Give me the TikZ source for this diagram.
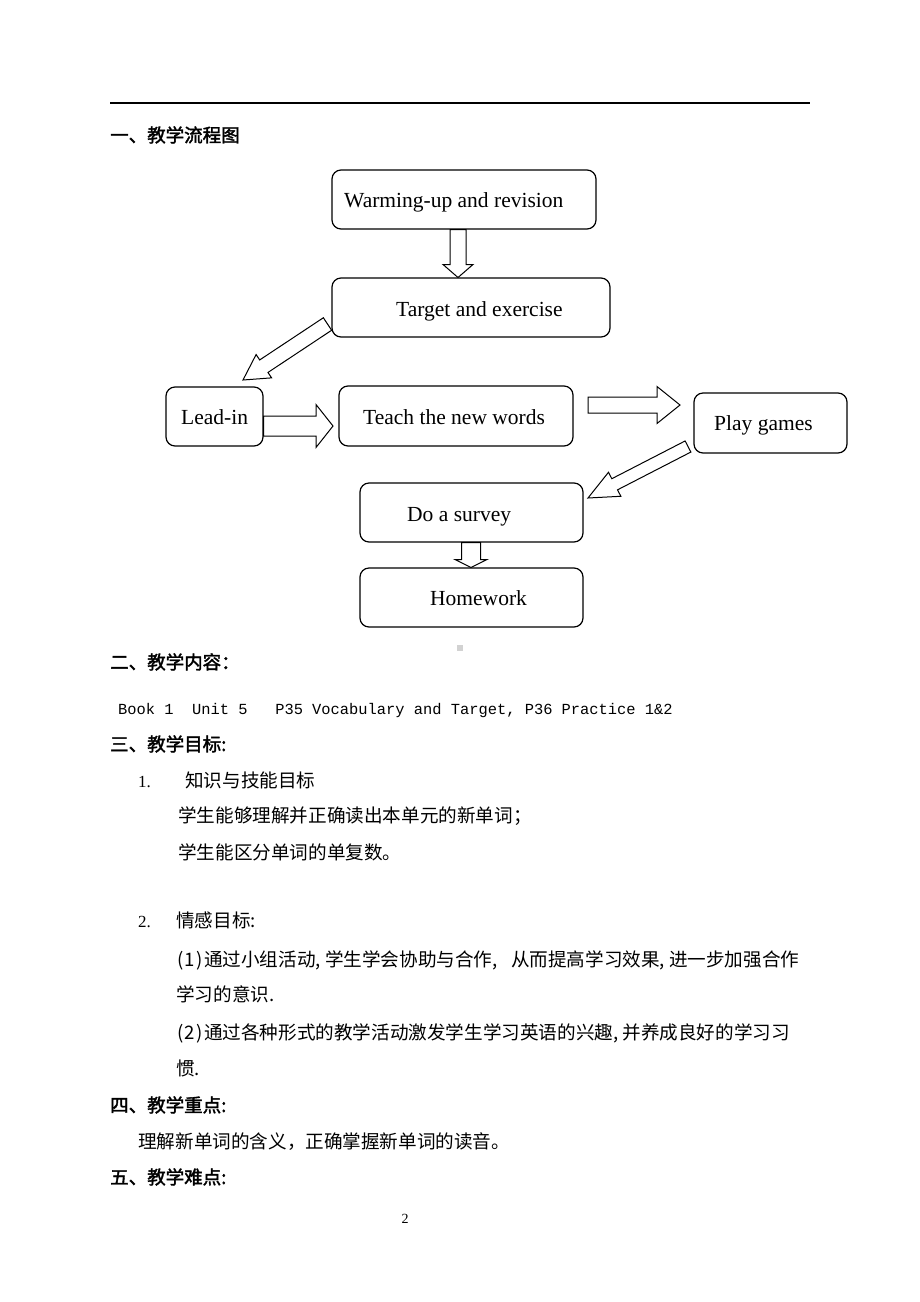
\documentclass[tikz,border=0pt]{standalone}
\usepackage{fontspec}
\setmainfont{Liberation Serif}
\setmonofont{Liberation Mono}
\newfontfamily\cjk{Noto Sans CJK SC}
\newfontfamily\cjkb[FakeBold=2]{Noto Sans CJK SC}
\usetikzlibrary{calc}
\newcommand\hw[1]{\makebox[0.5em][l]{#1}}
\newcommand\hc[1]{\makebox[0.5em][c]{#1}}
\newcommand\blockarr[5]{%
  \coordinate (bah) at ($(#2)!#5!(#1)$);
  \draw[barrow] ($(#1)!#3!90:(#2)$) -- ($(bah)!#3!90:(#2)$) -- ($(bah)!#4!90:(#2)$)
    -- (#2) -- ($(bah)!#4!-90:(#2)$) -- ($(bah)!#3!-90:(#2)$) -- ($(#1)!#3!-90:(#2)$) -- cycle;}
\begin{document}
\begin{tikzpicture}[x=1pt,y=-1pt,
  box/.style={draw, line width=1.2pt, rounded corners=9pt, inner sep=0pt},
  lbl/.style={anchor=base west, inner sep=0pt, font=\fontsize{21.5}{21.5}\selectfont},
  zh/.style={anchor=base west, inner sep=0pt, font=\cjk\fontsize{18.6}{18.6}\selectfont},
  zhb/.style={anchor=base west, inner sep=0pt, font=\cjkb\fontsize{18.5}{18.5}\selectfont},
  num/.style={anchor=base west, inner sep=0pt, font=\fontsize{17}{17}\selectfont},
  barrow/.style={draw, line width=1pt, fill=white, line join=miter}]
\useasboundingbox[fill=white] (0,0) rectangle (920,1302);
% top rule
\coordinate (r1) at (110,103);
\coordinate (r2) at (810,103);
\draw[line width=1.3pt] (r1) -- (r2);
\node[zhb] (h1) at (110,142) {一、教学流程图};
% boxes
\node[box, minimum width=264pt, minimum height=59pt] (warm) at (464,199.5) {};
\node[lbl] (twarm) at (344,207) {Warming-up and revision};
\node[box, minimum width=278pt, minimum height=59pt] (target) at (471,307.5) {};
\node[lbl] (ttarget) at (396,316) {Target and exercise};
\node[box, minimum width=97pt, minimum height=59pt] (lead) at (214.5,416.5) {};
\node[lbl] (tlead) at (181,424) {Lead-in};
\node[box, minimum width=234pt, minimum height=60pt] (teach) at (456,416) {};
\node[lbl] (tteach) at (363,424) {Teach the new words};
\node[box, minimum width=153pt, minimum height=60pt] (play) at (770.5,423) {};
\node[lbl] (tplay) at (714,430) {Play games};
\node[box, minimum width=223pt, minimum height=59pt] (survey) at (471.5,512.5) {};
\node[lbl] (tsurvey) at (407,521) {Do a survey};
\node[box, minimum width=223pt, minimum height=59pt] (home) at (471.5,597.5) {};
\node[lbl] (thome) at (430,605) {Homework};
% block arrows
\coordinate (a1t) at (458,229.6);  \coordinate (a1h) at (458,277.5);
\blockarr{a1t}{a1h}{8pt}{15pt}{13pt}
\coordinate (a2t) at (327.5,324);  \coordinate (a2h) at (243,380);
\blockarr{a2t}{a2h}{7.5pt}{14pt}{25pt}
\coordinate (a3t) at (263.6,426);  \coordinate (a3h) at (333,426);
\blockarr{a3t}{a3h}{10pt}{21.5pt}{17pt}
\coordinate (a4t) at (588,405);  \coordinate (a4h) at (680,405);
\blockarr{a4t}{a4h}{8pt}{18.5pt}{23pt}
\coordinate (a5t) at (688,446.5);  \coordinate (a5h) at (588,498);
\blockarr{a5t}{a5h}{6.25pt}{13.5pt}{30pt}
\coordinate (a6t) at (471,542.6);  \coordinate (a6h) at (471,567.5);
\blockarr{a6t}{a6h}{9.5pt}{16pt}{8pt}
% small grey mark
\fill[gray!35] (457,645) rectangle (463,651);
% body text
\node[zhb] (h2) at (110,669) {二、教学内容：};
\node[anchor=base west, inner sep=0pt, font=\ttfamily\fontsize{15.4}{15.4}\selectfont] (book) at (118,714)
  {Book 1\ \ Unit 5\ \ \ P35 Vocabulary and Target, P36 Practice 1\&2};
\node[zhb] (h3) at (110,751) {三、教学目标:};
\node[num] (n1) at (138,787) {1.};
\node[zh] (g1) at (185,787) {知识与技能目标};
\node[zh] (g1a) at (178,822) {学生能够理解并正确读出本单元的新单词；};
\node[zh] (g1b) at (178,859) {学生能区分单词的单复数。};
\node[num] (n2) at (138,927) {2.};
\node[zh] (g2) at (176,927) {情感目标\hw{:}};
\node[zh] (g2a) at (176,966) {\hc{(}\hc{1}\hc{)}通过小组活动\hw{,}学生学会协助与合作\hw{,}\hw{ }从而提高学习效果\hw{,}进一步加强合作};
\node[zh] (g2b) at (176,1001) {学习的意识\hw{.}};
\node[zh] (g2c) at (176,1039) {\hc{(}\hc{2}\hc{)}通过各种形式的教学活动激发学生学习英语的兴趣\hw{,}并养成良好的学习习};
\node[zh] (g2d) at (176,1075) {惯\hw{.}};
\node[zhb] (h4) at (110,1112) {四、教学重点:};
\node[zh] (p4) at (138,1148) {理解新单词的含义，正确掌握新单词的读音。};
\node[zhb] (h5) at (110,1184) {五、教学难点:};
\node[anchor=base, inner sep=0pt, font=\fontsize{14}{14}\selectfont] (pg) at (405,1223) {2};
\end{tikzpicture}
\end{document}
